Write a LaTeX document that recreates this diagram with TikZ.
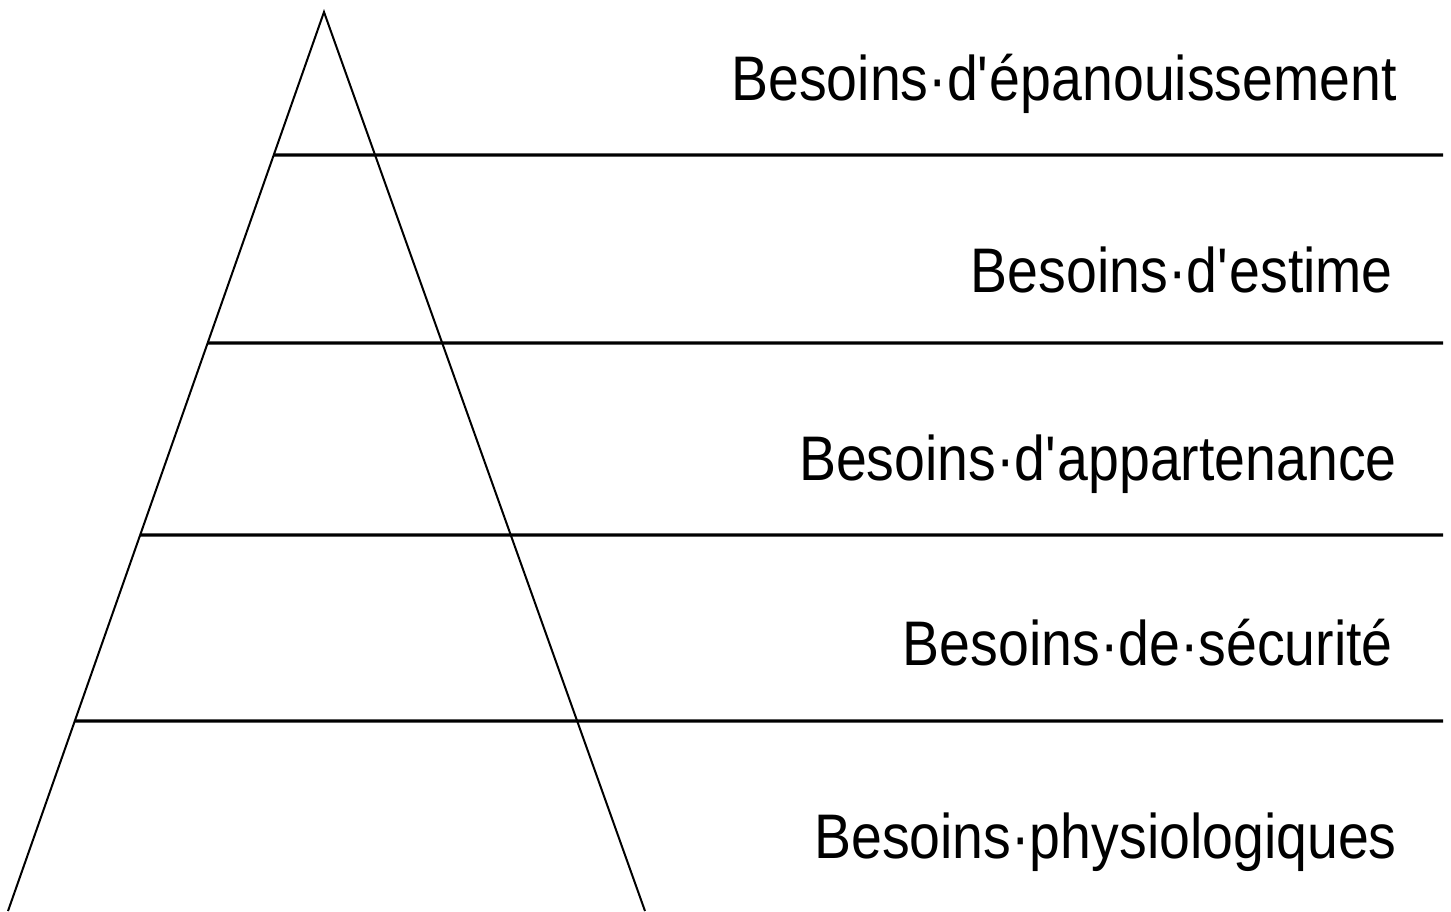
\documentclass[tikz,border=0pt]{standalone}
\usepackage{fontspec}
\setmainfont{Liberation Sans}[FakeStretch=0.88]
\usetikzlibrary{calc}
\begin{document}
\begin{tikzpicture}[x=1pt,y=-1pt,
  side/.style={line width=2pt},
  level/.style={line width=3.2pt},
  label/.style={anchor=base east,inner sep=0pt,font=\fontsize{63}{70}\selectfont}]
\useasboundingbox (0,0) rectangle (1451,911);
\coordinate (apex) at (324,12);
\coordinate (bl) at (8,911);
\coordinate (br) at (645,911);
\draw[side] (bl) -- (apex) -- (br);
\foreach \y/\t/\n in {155/0.1591/a,343/0.3682/b,535/0.5818/c,721/0.7887/d}{
  \coordinate (L\n) at ($(apex)!\t!(bl)$);
  \coordinate (R\n) at (1443,\y);
  \draw[level] (L\n) -- (R\n);
}
\node[label] (t1) at (1397,100) {Besoins·d\textquotesingle épanouissement};
\node[label] (t2) at (1393,292) {Besoins·d\textquotesingle estime};
\node[label] (t3) at (1397,480) {Besoins·d\textquotesingle appartenance};
\node[label] (t4) at (1393,665) {Besoins·de·sécurité};
\node[label] (t5) at (1397,858) {Besoins·physiologiques};
\end{tikzpicture}
\end{document}
